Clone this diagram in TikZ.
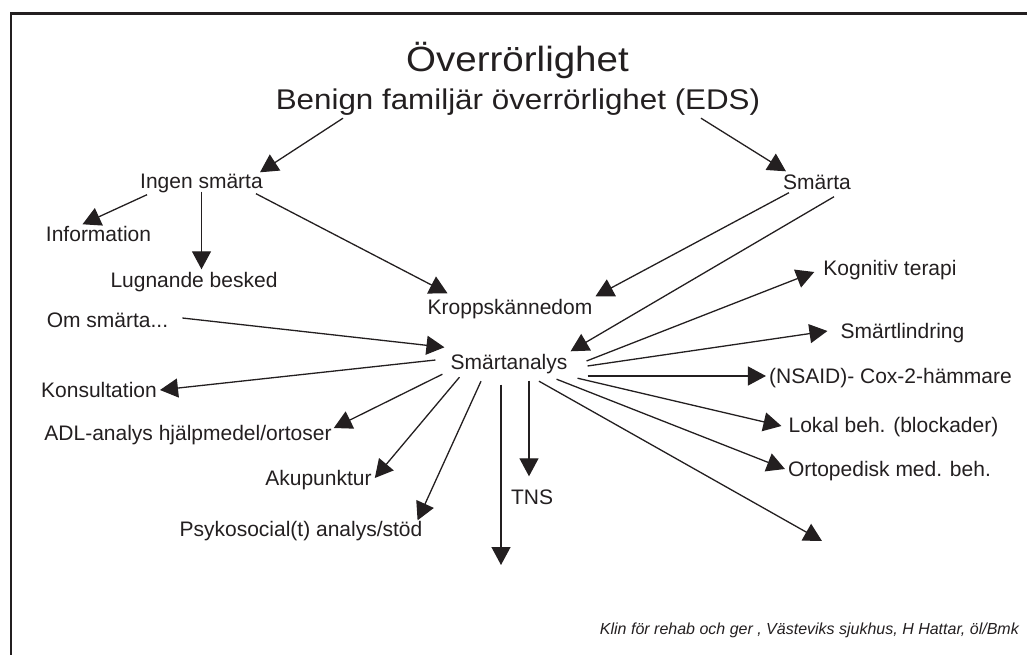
\documentclass[tikz,border=0pt]{standalone}
\usepackage{fontspec}
\setmainfont{Liberation Sans}
\newfontfamily\widesans[FakeStretch=1.1]{Liberation Sans}
\usetikzlibrary{arrows.meta, calc}
\definecolor{ink}{RGB}{35,31,32}

\begin{document}
\begin{tikzpicture}[x=1pt, y=-1pt, every node/.style={text=ink},
    item/.style={font=\fontsize{21}{25}\selectfont, inner sep=3pt, text height=15pt, text depth=0pt},
    arr/.style={draw=ink, line width=1.3pt, -{Triangle[length=18pt,width=19pt]}}]
    \useasboundingbox (0,0) rectangle (1027,655);
    % frame, right and bottom edges lie off the page
    \draw[ink, line width=2.5pt] (1032,13.5) -- (11,13.5) -- (11,660);

    \node[font=\widesans\fontsize{35}{40}\selectfont, anchor=base, inner sep=0pt] (title) at (517.5,72) {Överrörlighet};
    \node[font=\widesans\fontsize{28.5}{34}\selectfont, anchor=base, inner sep=3pt, text depth=0pt] (sub) at (518,110) {Benign familjär överrörlighet (EDS)};

    \node[item] (ingen) at (201.5,181) {Ingen smärta};
    \node[item] (smarta) at (817,182) {Smärta};
    \node[item] (info) at (98.5,234) {Information};
    \node[item] (lugn) at (194,280) {Lugnande besked};
    \node[item] (kropp) at (510,307) {Kroppskännedom};
    \node[item] (om) at (107.5,320) {Om smärta...};
    \node[item] (analys) at (509,362) {Smärtanalys};

    % left side
    \node[item] (konsult) at (99,390) {Konsultation};
    \node[item] (adl) at (188,433) {ADL-analys hjälpmedel/ortoser};
    \node[item] (aku) at (318.5,478) {Akupunktur};
    \node[item] (psyk) at (301,529) {Psykosocial(t) analys/stöd};
    \node[item] (tns) at (532,497) {TNS};

    % right side
    \node[item] (kogn) at (890,268) {Kognitiv terapi};
    \node[item] (lindr) at (902.5,331) {Smärtlindring};
    \node[item] (nsaid) at (890.5,376) {(NSAID)- Cox-2-hämmare};
    \node[item] (lokal) at (893.5,425) {Lokal beh. (blockader)};
    \node[item] (ortop) at (889.5,469) {Ortopedisk med. beh.};

    \node[font=\itshape\fontsize{16}{18}\selectfont, anchor=base east, inner sep=0pt] (foot) at (1019,634) {Klin för rehab och ger , Västeviks sjukhus, H Hattar, öl/Bmk};

    \coordinate (lowend) at (501,565);
    \coordinate (blankend) at (822,541);

    \draw[arr] ($(sub.south)+(-175,5)$) -- ($(ingen.north east)+(-6,2)$);
    \draw[arr] ($(sub.south)+(183,5)$) -- ($(smarta.north west)+(6,0)$);
    \draw[arr] ($(ingen.south west)+(10,3)$) -- ($(info.north)+(-16,1)$);
    \draw[arr] (ingen.south) -- (ingen.south |- lugn.north);
    \draw[arr] ($(ingen.south east)+(-10,2)$) -- ($(kropp.north west)+(23,-3)$);
    \draw[arr] ($(smarta.south west)+(9,0)$) -- (kropp.north east);
    \draw[arr] ($(smarta.south east)+(-20,4)$) -- (analys.north east);
    \draw[arr] ($(om.east)+(11,-2)$) -- ($(analys.north west)+(-3,-4)$);

    \draw[arr] ($(analys.west)+(-12,-2)$) -- (konsult.east);
    \draw[arr] ($(analys.south west)+(-5,1.5)$) -- ($(adl.east)+(-1,-5)$);
    \draw[arr] ($(analys.south west)+(12,4.5)$) -- (aku.east);
    \draw[arr] ($(analys.south)+(-28,8.5)$) -- ($(psyk.north east)+(-8,2)$);
    \draw[arr] ($(analys.south)+(-8,12)$) -- (lowend);
    \draw[arr] ($(analys.south)+(20,8)$) -- ($(tns.north)+(-3,-10)$);
    \draw[arr] ($(analys.south)+(30,8.5)$) -- (blankend);
    \draw[arr] ($(analys.south east)+(-14,6.5)$) -- (ortop.west);
    \draw[arr] ($(analys.south east)+(7,5.5)$) -- ($(lokal.west)+(-4,1)$);
    \draw[arr] ($(analys.east)+(17,14)$) -- (nsaid.west);
    \draw[arr] ($(analys.east)+(17,4)$) -- ($(lindr.west)+(-10,0)$);
    \draw[arr] ($(analys.east)+(16,-1)$) -- ($(kogn.west)+(-6,4)$);
\end{tikzpicture}
\end{document}
